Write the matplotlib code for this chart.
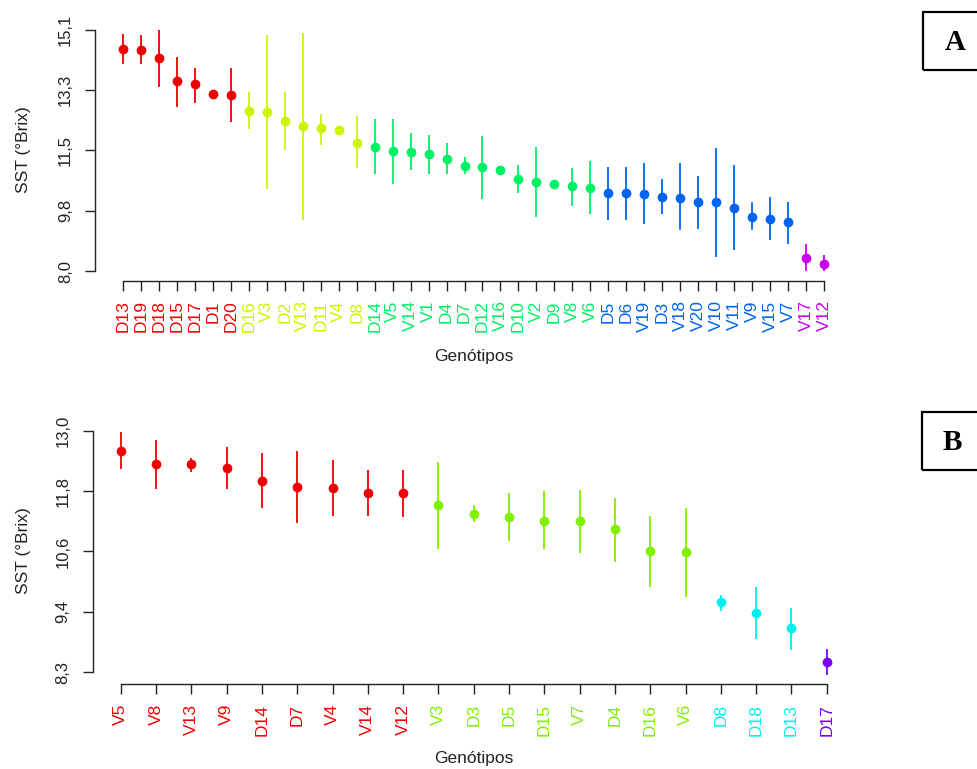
import matplotlib
matplotlib.use("Agg")
import matplotlib.pyplot as plt
from matplotlib.patches import Rectangle

plt.rcParams['font.family'] = ['Liberation Sans', 'DejaVu Sans']

# ---- panel A data (means and interval limits)
genotypes_a = ["D13", "D19", "D18", "D15", "D17", "D1", "D20",
               "D16", "V3", "D2", "V13", "D11", "V4", "D8",
               "D14", "V5", "V14", "V1", "D4", "D7", "D12", "V16", "D10",
               "V2", "D9", "V8", "V6",
               "D5", "D6", "V19", "D3", "V18", "V20", "V10", "V11", "V9",
               "V15", "V7",
               "V17", "V12"]
groups_a = [0, 0, 0, 0, 0, 0, 0,
            1, 1, 1, 1, 1, 1, 1,
            2, 2, 2, 2, 2, 2, 2, 2, 2, 2, 2, 2, 2,
            3, 3, 3, 3, 3, 3, 3, 3, 3, 3, 3,
            4, 4]
means_a = [14.54, 14.51, 14.27, 13.58, 13.49, 13.22, 13.18,
           12.72, 12.67, 12.42, 12.27, 12.20, 12.14, 11.77,
           11.64, 11.54, 11.51, 11.44, 11.31, 11.09, 11.06, 10.98, 10.71,
           10.63, 10.56, 10.50, 10.45,
           10.29, 10.29, 10.26, 10.19, 10.16, 10.03, 10.03, 9.87, 9.60,
           9.53, 9.45,
           8.39, 8.22]
upper_a = [14.98, 14.94, 15.10, 14.31, 13.98, 13.25, 13.98,
           13.26, 14.93, 13.26, 15.01, 12.62, 12.17, 12.57,
           12.47, 12.47, 12.05, 12.01, 11.78, 11.36, 11.98, 11.01, 11.13,
           11.66, 10.62, 11.03, 11.24,
           11.07, 11.07, 11.19, 10.71, 11.17, 10.80, 11.62, 11.13, 10.04,
           10.18, 10.04,
           8.79, 8.49]
lower_a = [14.10, 14.10, 13.43, 12.82, 12.95, 13.19, 12.39,
           12.18, 10.41, 11.57, 9.50, 11.72, 12.11, 11.05,
           10.85, 10.58, 10.97, 10.87, 10.85, 10.87, 10.12, 10.95, 10.31,
           9.59, 10.50, 9.93, 9.67,
           9.50, 9.50, 9.38, 9.67, 9.20, 9.25, 8.41, 8.64, 9.20,
           8.91, 8.81,
           8.00, 8.00]
colors_a = ["#F00000", "#CCF500", "#00F064", "#0064F0", "#C800F0"]
yticks_a = [8.0, 9.775, 11.55, 13.325, 15.1]
ylabels_a = ["8,0", "9,8", "11,5", "13,3", "15,1"]

# ---- panel B data
genotypes_b = ["V5", "V8", "V13", "V9", "D14", "D7", "V4", "V14", "V12",
               "V3", "D3", "D5", "D15", "V7", "D4", "D16", "V6",
               "D8", "D18", "D13",
               "D17"]
groups_b = [0, 0, 0, 0, 0, 0, 0, 0, 0,
            1, 1, 1, 1, 1, 1, 1, 1,
            2, 2, 2,
            3]
means_b = [12.61, 12.35, 12.35, 12.28, 12.02, 11.91, 11.89, 11.79, 11.79,
           11.55, 11.38, 11.32, 11.25, 11.25, 11.09, 10.66, 10.64,
           9.66, 9.46, 9.16,
           8.50]
upper_b = [12.98, 12.81, 12.46, 12.68, 12.56, 12.61, 12.43, 12.24, 12.24,
           12.40, 11.55, 11.78, 11.83, 11.85, 11.70, 11.34, 11.50,
           9.80, 9.95, 9.56,
           8.75]
lower_b = [12.25, 11.87, 12.20, 11.87, 11.49, 11.20, 11.35, 11.35, 11.33,
           10.69, 11.23, 10.85, 10.69, 10.63, 10.45, 9.95, 9.76,
           9.50, 8.94, 8.73,
           8.25]
colors_b = ["#F00000", "#80F000", "#00F0F0", "#7800F0"]
yticks_b = [8.3, 9.475, 10.65, 11.825, 13.0]
ylabels_b = ["8,3", "9,4", "10,6", "11,8", "13,0"]

W, H = 978, 769
fig = plt.figure(figsize=(W / 100, H / 100), dpi=100)


def px_box(x0, x1, y_top, y_bot):
    # pixel box -> figure fraction [left, bottom, width, height]
    return [x0 / W, 1 - y_bot / H, (x1 - x0) / W, (y_bot - y_top) / H]


def draw_panel(rect, names, groups, means, lo, hi, palette, yt, ytl, ylim):
    ax = fig.add_axes(rect)
    n = len(names)
    pad = 0.04 * (n - 1)
    for i in range(n):
        c = palette[groups[i]]
        ax.plot([i, i], [lo[i], hi[i]], color=c, lw=1.3, solid_capstyle='butt')
        ax.plot(i, means[i], 'o', color=c, ms=6, mec=c)
    ax.set_xlim(-pad, n - 1 + pad)
    ax.set_ylim(*ylim)
    for s in ['top', 'right']:
        ax.spines[s].set_visible(False)
    ax.spines['left'].set_bounds(yt[0], yt[-1])
    ax.spines['bottom'].set_bounds(0, n - 1)
    for s in ['left', 'bottom']:
        ax.spines[s].set_color('#222222')
        ax.spines[s].set_linewidth(1.0)
    ax.set_xticks(range(n))
    ax.set_xticklabels(names, rotation=90, fontsize=12.5)
    ax.set_yticks(yt)
    ax.set_yticklabels(ytl, rotation=90, va='center', fontsize=12, color='#222222')
    ax.tick_params(axis='both', direction='out', length=7, width=1, colors='#222222')
    ax.tick_params(axis='x', pad=7)
    ax.tick_params(axis='y', pad=9)
    # colour the genotype names by group
    for lab, g in zip(ax.get_xticklabels(), groups):
        lab.set_color(palette[g])
    return ax


draw_panel(px_box(95, 852, 20, 281), genotypes_a, groups_a, means_a,
           lower_a, upper_a, colors_a, yticks_a, ylabels_a, (7.716, 15.384))
draw_panel(px_box(92.5, 855, 418.7, 684.3), genotypes_b, groups_b, means_b,
           lower_b, upper_b, colors_b, yticks_b, ylabels_b, (8.067, 13.233))

# axis titles
fig.text(24 / W, 1 - 150 / H, "SST (°Brix)", rotation=90, ha='center', va='center',
         fontsize=12.5, color='#222222')
fig.text(24 / W, 1 - 551 / H, "SST (°Brix)", rotation=90, ha='center', va='center',
         fontsize=12.5, color='#222222')
fig.text(474 / W, 1 - 356 / H, "Genótipos", ha='center', va='center',
         fontsize=12.5, color='#222222')
fig.text(474 / W, 1 - 759 / H, "Genótipos", ha='center', va='center',
         fontsize=12.5, color='#222222')

# panel letters in boxes
for (bx, by0, by1, letter, lx, ly) in [(922.7, 11.7, 70, "A", 955, 42),
                                       (921.7, 411.7, 470, "B", 952, 442)]:
    fig.patches.append(Rectangle((bx / W, 1 - by1 / H), (990 - bx) / W, (by1 - by0) / H,
                                 transform=fig.transFigure, fill=False,
                                 edgecolor='black', lw=1.6))
    fig.text(lx / W, 1 - ly / H, letter, ha='center', va='center', fontsize=21,
             fontweight='bold', family='Liberation Serif')

fig.savefig("out.png", dpi=100)
